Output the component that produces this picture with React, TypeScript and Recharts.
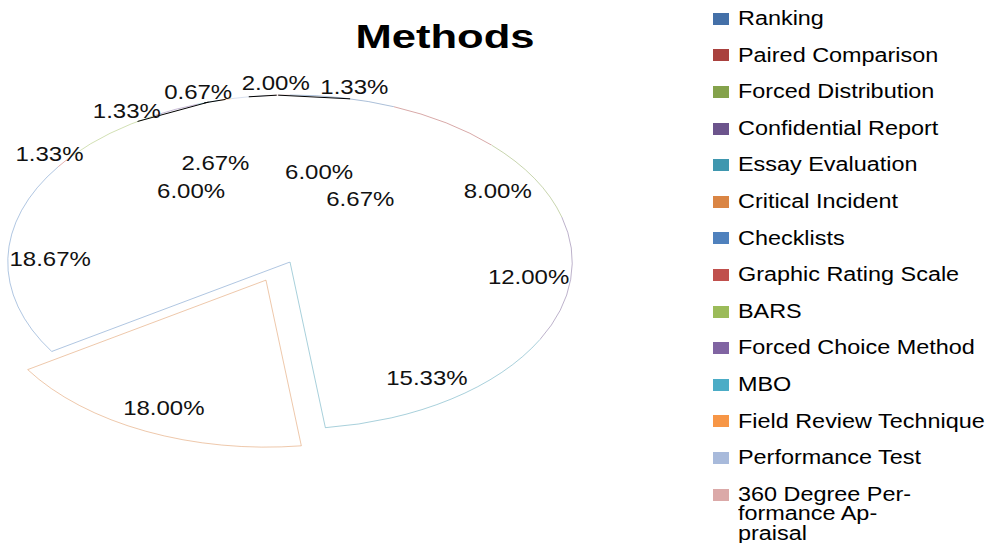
import { PieChart, Pie, Cell, Legend } from "recharts"

const categories = [
  "Ranking",
  "Paired Comparison",
  "Forced Distribution",
  "Confidential Report",
  "Essay Evaluation",
  "Critical Incident",
  "Checklists",
  "Graphic Rating Scale",
  "BARS",
  "Forced Choice Method",
  "MBO",
  "Field Review Technique",
  "Performance Test",
  "360 Degree Per\u00ADformance Ap\u00ADpraisal",
]

// number of respondents (out of 150) per method
const responses = [9, 10, 12, 18, 23, 27, 28, 2, 9, 4, 2, 1, 3, 2]

const colors = [
  "#4470A8", "#A9413E", "#84A24B", "#6C548C", "#3F97AF", "#DA8544", "#4F81BD",
  "#C0504D", "#9BBB59", "#8064A2", "#4BACC6", "#F79646", "#A8BADB", "#DBA9A8",
]

const explodedName = "Critical Incident"

const FONT = '"Liberation Sans", Arial, sans-serif'
const RX = 1.69 // pie is drawn as a wide ellipse
const STRETCH = 1.2 // text is stretched horizontally like the original
const LABEL_SIZE = 20
const SMALL = 0.025 // slices below this get their label outside
const GAP = 15 // min degrees between outside labels

const data = categories.map((name, i) => ({ name, value: responses[i] }))

// spread the outside labels of neighbouring thin slices around their common centre
function spreadOutside() {
  const total = responses.reduce((a, b) => a + b, 0)
  const out: Record<number, number> = {}
  let acc = 0
  let cluster: { i: number; clock: number }[] = []
  const flush = () => {
    if (!cluster.length) return
    const mean = cluster.reduce((s, m) => s + m.clock, 0) / cluster.length
    cluster.forEach((m, k) => {
      out[m.i] = mean + (k - (cluster.length - 1) / 2) * GAP
    })
    cluster = []
  }
  responses.forEach((v, i) => {
    const clock = ((acc + v / 2) / total) * 360
    acc += v
    if (v / total >= SMALL) return
    const last = cluster[cluster.length - 1]
    if (last && clock - last.clock > GAP) flush()
    cluster.push({ i, clock })
  })
  flush()
  return out
}
const outsideClock = spreadOutside()

function pt(cx: number, cy: number, r: number, angle: number) {
  const a = (angle * Math.PI) / 180
  return { x: cx + r * RX * Math.cos(a), y: cy - r * Math.sin(a) }
}

function explodeOffset(name: string, midAngle: number, r: number) {
  if (name !== explodedName) return { dx: 0, dy: 0 }
  const a = (midAngle * Math.PI) / 180
  return { dx: r * RX * Math.cos(a) * 0.2, dy: -r * Math.sin(a) * 0.12 }
}

function EllipseSector(props: any) {
  const { cx, cy, outerRadius, startAngle, endAngle, name, midAngle } = props
  const idx = categories.indexOf(name)
  const ei = categories.indexOf(explodedName)
  const { dx, dy } = explodeOffset(name, midAngle, outerRadius)
  const ox = cx + dx
  const oy = cy + dy
  const p1 = pt(ox, oy, outerRadius, startAngle)
  const p2 = pt(ox, oy, outerRadius, endAngle)
  const large = Math.abs(endAngle - startAngle) > 180 ? 1 : 0
  const sweep = startAngle > endAngle ? 1 : 0
  const arc = `A ${outerRadius * RX} ${outerRadius} 0 ${large} ${sweep} ${p2.x} ${p2.y}`
  const exploded = name === explodedName
  const edgeStart = exploded || idx === ei + 1
  const edgeEnd = exploded || idx === ei - 1
  const stroke = colors[idx] ?? "#bbb"
  return (
    <g>
      <path d={`M ${ox} ${oy} L ${p1.x} ${p1.y} ${arc} Z`} fill="#fff" stroke="none" />
      <path d={`M ${p1.x} ${p1.y} ${arc}`} fill="none" stroke={stroke} strokeOpacity={0.45} />
      {edgeStart && (
        <line x1={ox} y1={oy} x2={p1.x} y2={p1.y} stroke={stroke} strokeOpacity={0.45} />
      )}
      {edgeEnd && (
        <line x1={ox} y1={oy} x2={p2.x} y2={p2.y} stroke={stroke} strokeOpacity={0.45} />
      )}
    </g>
  )
}

// inner label boxes, keyed by slice index, to step labels off each other
const innerBoxes: ({ x0: number; x1: number; y0: number; y1: number } | null)[] = []

function renderLabel(props: any) {
  const { cx, cy, midAngle, outerRadius, percent, index, name } = props
  const text = `${(percent * 100).toFixed(2)}%`
  const w = text.length * 0.57 * LABEL_SIZE * STRETCH
  const h = LABEL_SIZE * 0.75
  let x = 0
  let y = 0
  let leader: { x1: number; y1: number; x2: number; y2: number } | null = null
  innerBoxes[index] = null

  if (percent < SMALL) {
    const clock = 90 - midAngle
    const c = outsideClock[index] ?? clock
    const p = pt(cx, cy, outerRadius * 1.07, 90 - c)
    x = p.x
    y = p.y
    if (Math.abs(c - clock) > 3) {
      const e = pt(cx, cy, outerRadius, midAngle)
      const t = pt(cx, cy, outerRadius, 90 - c)
      leader = { x1: e.x, y1: e.y, x2: t.x, y2: t.y }
    }
  } else {
    const { dx, dy } = explodeOffset(name, midAngle, outerRadius)
    const base = percent >= 0.08 ? 0.85 : 0.55
    for (const step of [0, -0.1, 0.1, -0.2, 0.2, -0.3]) {
      const p = pt(cx + dx, cy + dy, outerRadius * (base + step), midAngle)
      const box = { x0: p.x - w / 2, x1: p.x + w / 2, y0: p.y - h / 2, y1: p.y + h / 2 }
      const hit = innerBoxes
        .slice(0, index)
        .some((b) => b && b.x0 < box.x1 && box.x0 < b.x1 && b.y0 < box.y1 && box.y0 < b.y1)
      x = p.x
      y = p.y
      if (!hit) {
        innerBoxes[index] = box
        break
      }
    }
  }

  return (
    <g>
      {leader && (
        <line x1={leader.x1} y1={leader.y1} x2={leader.x2} y2={leader.y2} stroke="#000" strokeWidth={1} />
      )}
      <text
        transform={`translate(${x},${y}) scale(${STRETCH},1)`}
        textAnchor="middle"
        dominantBaseline="central"
        fontFamily={FONT}
        fontSize={LABEL_SIZE}
        fill="#111"
      >
        {text}
      </text>
    </g>
  )
}

function MethodLegend({ payload }: any) {
  const items: { value: string }[] = (
    payload && payload.length ? [...payload] : categories.map((value) => ({ value }))
  ).sort((a: any, b: any) => categories.indexOf(a.value) - categories.indexOf(b.value))
  return (
    <div style={{ position: "relative", width: 292, height: 543, fontFamily: FONT, fontSize: 19.5, lineHeight: "19.5px", color: "#000" }}>
      {items.map((entry, i) => {
        const idx = categories.indexOf(entry.value)
        const top = 9 + i * 36.6
        const soft = entry.value.includes("\u00AD")
        return (
          <div key={entry.value} style={{ position: "absolute", left: 8, top, display: "flex", alignItems: "flex-start" }}>
            <div style={{ width: 16, height: 12, marginTop: 3.75, marginRight: 9, background: colors[idx] }} />
            <span
              style={{
                display: "inline-block",
                transform: `scaleX(${STRETCH})`,
                transformOrigin: "left top",
                whiteSpace: soft ? "normal" : "nowrap",
                maxWidth: soft ? 150 : undefined,
              }}
            >
              {entry.value}
            </span>
          </div>
        )
      })}
    </div>
  )
}

export default function App() {
  return (
    <div style={{ position: "absolute", left: 0, top: 0, width: 997, height: 543, background: "#fff" }}>
      <div
        style={{
          position: "absolute",
          left: 444.5,
          top: 20,
          transform: "translateX(-50%) scaleX(1.32)",
          fontFamily: FONT,
          fontWeight: "bold",
          fontSize: 33,
          lineHeight: "33px",
          whiteSpace: "nowrap",
          zIndex: 2,
        }}
      >
        Methods
      </div>
      <PieChart width={997} height={543} margin={{ top: 0, right: 0, bottom: 0, left: 0 }}>
        <Pie
          data={data}
          dataKey="value"
          nameKey="name"
          cx={290}
          cy={262}
          outerRadius={167}
          startAngle={90}
          endAngle={-270}
          stroke="none"
          labelLine={false}
          label={renderLabel}
          shape={EllipseSector}
          inactiveShape={EllipseSector}
          activeShape={EllipseSector}
          isAnimationActive={false}
        >
          {data.map((d, i) => (
            <Cell key={d.name} fill="#fff" stroke={colors[i]} />
          ))}
        </Pie>
        <Legend
          layout="vertical"
          verticalAlign="top"
          align="right"
          content={<MethodLegend />}
          wrapperStyle={{ left: 705, top: 0, width: 292, height: 543 }}
        />
      </PieChart>
    </div>
  )
}
